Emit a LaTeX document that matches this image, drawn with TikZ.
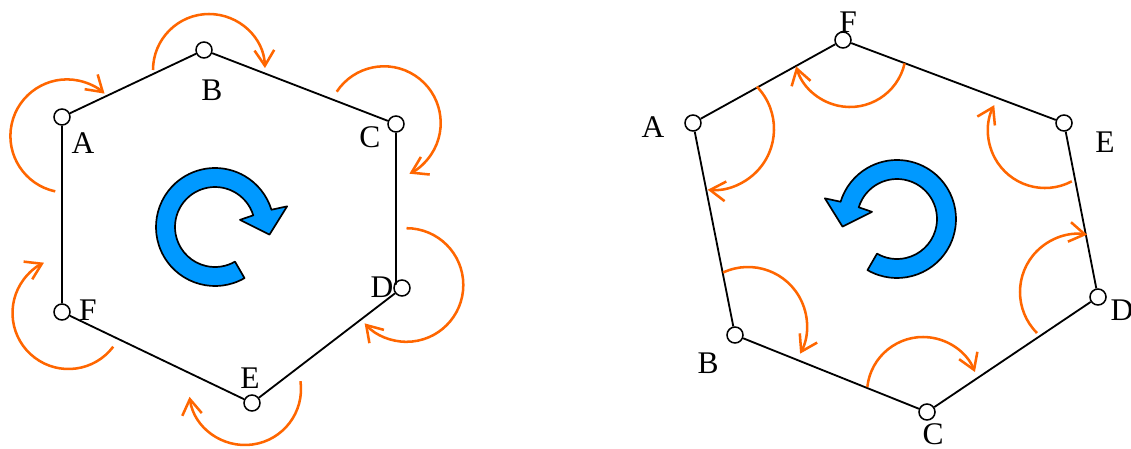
\documentclass[tikz,border=0pt]{standalone}
\usepackage{fontspec}
\setmainfont{Liberation Serif}
\usetikzlibrary{arrows.meta}
\definecolor{turnorange}{HTML}{FF6600}
\definecolor{ringblue}{HTML}{0099FF}

\begin{document}
\begin{tikzpicture}[x=0.025cm,y=-0.025cm,
    vtx/.style={circle,draw,fill=white,line width=1.1pt,minimum size=0.4cm,inner sep=0pt},
    lbl/.style={inner sep=0pt,font=\fontsize{22.4}{26}\selectfont},
    side/.style={line width=1.3pt},
    turn/.style={turnorange,line width=1.8pt,-{Straight Barb[length=11pt,width=14pt]}},
    ring/.style={draw=black,fill=ringblue,line width=1.2pt,line join=round}]
  \useasboundingbox (0,0) rectangle (1131,448);
  % left hexagon (clockwise)
  \node[vtx] (A1) at (62,117) {};
  \node[vtx] (B1) at (204,50) {};
  \node[vtx] (C1) at (396,124) {};
  \node[vtx] (D1) at (402,288) {};
  \node[vtx] (E1) at (252,403) {};
  \node[vtx] (F1) at (62,312) {};
  \draw[side] (A1) -- (B1) -- (C1) -- (C1 |- D1.150) -- (D1.150);
  \draw[side] (D1) -- (E1) -- (F1) -- (A1);
  \node[lbl] (tA1) at (83,143) {A};
  \node[lbl] (tB1) at (212,90) {B};
  \node[lbl] (tC1) at (370,137) {C};
  \node[lbl] (tD1) at (382,287) {D};
  \node[lbl] (tE1) at (250,378) {E};
  \node[lbl] (tF1) at (88,310) {F};
  \foreach \cx/\cy/\r/\a/\b in {67/136/56.6/102/311.5, 209/70/56/180/358,
      384/123/56.7/213.5/423.4, 406.5/285/56.8/270/497.5,
      245/389/56/-8/172, 68.5/313/56/37/244}
    \draw[turn] (\cx,\cy) ++(\a:\r) arc[start angle=\a,end angle=\b,radius=\r];
  \begin{scope}[shift={(215,227)}]
    \draw[ring] (60:59) arc[start angle=60,end angle=343,radius=59]
      -- (344:75) -- (8:55) -- (344:26) -- (343:40)
      arc[start angle=343,end angle=60,radius=40] -- cycle;
  \end{scope}
  % right hexagon (counterclockwise)
  \node[vtx] (A2) at (693,123) {};
  \node[vtx] (F2) at (843,40) {};
  \node[vtx] (E2) at (1064,123) {};
  \node[vtx] (D2) at (1098,297) {};
  \node[vtx] (C2) at (927,412) {};
  \node[vtx] (B2) at (735,335) {};
  \draw[side] (A2) -- (F2) -- (E2) -- (D2) -- (C2) -- (B2) -- (A2);
  \node[lbl] (tA2) at (653,127) {A};
  \node[lbl] (tF2) at (848,22) {F};
  \node[lbl] (tE2) at (1105,142) {E};
  \node[lbl] (tD2) at (1122,310) {D};
  \node[lbl] (tC2) at (933,434) {C};
  \node[lbl] (tB2) at (708,363) {B};
  \foreach \cx/\cy/\r/\a/\b in {713/129/61/-44/95, 850/51/56/12.7/164,
      1045/131/57/62/207, 1078/292/58/135/279,
      923/393/56/186/338, 748/326/59/245/388}
    \draw[turn] (\cx,\cy) ++(\a:\r) arc[start angle=\a,end angle=\b,radius=\r];
  \begin{scope}[shift={(897,219)},xscale=-1]
    \draw[ring] (60:59) arc[start angle=60,end angle=343,radius=59]
      -- (344:75) -- (8:55) -- (344:26) -- (343:40)
      arc[start angle=343,end angle=60,radius=40] -- cycle;
  \end{scope}
\end{tikzpicture}
\end{document}
